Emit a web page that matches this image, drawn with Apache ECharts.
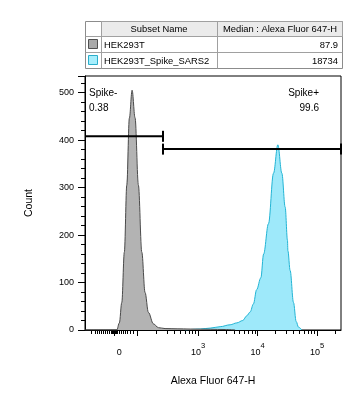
<!DOCTYPE html>
<html><head><meta charset="utf-8">
<script src="https://cdn.jsdelivr.net/npm/echarts@6/dist/echarts.min.js"></script>
<style>html,body{margin:0;padding:0;background:#fff}#c{width:362px;height:402px}</style>
</head><body><div id="c"></div>
<script>
// ---- data (x in logicle display units: decades, 10^3 = 3) ----
const subsetNames = ['HEK293T', 'HEK293T_Spike_SARS2'];
const subsetMedians = ['87.9', '18734'];
const tableHeaders = ['Subset Name', 'Median : Alexa Fluor 647-H'];

const hekChannel = [1.10, 1.60, 1.634, 1.677, 1.718, 1.761, 1.802, 1.845, 1.891, 1.941, 1.997, 2.054, 2.109, 2.165, 2.249, 2.333, 2.445, 2.647, 2.866, 3.202, 3.454, 3.622];
const hekCount   = [0,    0,    0,     15,    58,    164,   305,   446,   505,   447,   305,   164,   79,    37,    13,    5,     3,     2.5,   2,     1.5,   1,     0];

const spikeChannel = [2.78, 3.034, 3.202, 3.37, 3.538, 3.65, 3.75, 3.818, 3.874, 3.929, 3.983, 4.054, 4.10, 4.182, 4.266, 4.339, 4.407, 4.462, 4.501, 4.508, 4.546, 4.602, 4.647, 4.686, 4.743];
const spikeCount   = [0,    2,     4,     7,    11,    15,   20,   30,    38,    55,    85,    110,   160,  224,   330,   390,   330,   259,   189,   167,   125,   58,    18,    6,     0];

const xLabelValues = [1.677, 3, 4, 5];
const xLabelExps   = ['', '3', '4', '5'];
const xMajorTicks  = [1.588, 1.97, 3, 4, 5];
const xLowMinorTicks = [1.213, 1.269, 1.308, 1.341, 1.375, 1.408, 1.442, 1.476, 1.509, 1.533, 1.555, 1.571, 1.605, 1.622, 1.644, 1.677, 1.711, 1.745, 1.778, 1.812, 1.857, 1.913];
const logDecades = [2, 3, 4, 5];

const gateNames    = ['Spike-', 'Spike+'];
const gatePercents = ['0.38', '99.6'];
const gateStart    = [1.10, 2.41];
const gateEnd      = [2.41, 5.40];
const gateLevel    = [408, 381];

// ---- build ----
const xMin = 1.10, xMax = 5.40;
const logMinor = [];
logDecades.forEach(d => { for (let k = 2; k <= 9; k++) { const v = d + Math.log10(k); if (v < xMax) logMinor.push(+v.toFixed(4)); } });
const xMinorTicks = xLowMinorTicks.concat(logMinor);

const hekData = hekChannel.map((x, i) => [x, hekCount[i]]);
const spikeData = spikeChannel.map((x, i) => [x, spikeCount[i]]);
const gateData = gateStart.map((s, i) => [s, gateEnd[i], gateLevel[i], i]);

const FONT = '"Liberation Sans", Arial, sans-serif';
const TF = '9.4px ' + FONT;
const chart = echarts.init(document.getElementById('c'), null, {renderer: 'canvas'});

const tL = 85.5, tR = 342.5, tT = 21.5, r1 = 36.5, r2 = 52.5, tB = 68.5, c1 = 101.5, c2 = 217.5;
const graphic = [
  {type: 'rect', shape: {x: tL, y: tT, width: tR - tL, height: tB - tT}, style: {fill: '#fff', stroke: '#8c8c8c', lineWidth: 1}},
  {type: 'rect', shape: {x: c1, y: tT, width: tR - c1, height: r1 - tT}, style: {fill: '#ebebeb', stroke: '#a0a0a0', lineWidth: 1}},
  {type: 'line', shape: {x1: tL, y1: r1, x2: tR, y2: r1}, style: {stroke: '#a0a0a0'}},
  {type: 'line', shape: {x1: tL, y1: r2, x2: tR, y2: r2}, style: {stroke: '#a0a0a0'}},
  {type: 'line', shape: {x1: c1, y1: tT, x2: c1, y2: tB}, style: {stroke: '#a0a0a0'}},
  {type: 'line', shape: {x1: c2, y1: tT, x2: c2, y2: tB}, style: {stroke: '#a0a0a0'}},
  {type: 'rect', shape: {x: 88.5, y: 39.5, width: 9, height: 9}, style: {fill: '#a9a9a9', stroke: '#505050'}},
  {type: 'rect', shape: {x: 88.5, y: 55.5, width: 9, height: 9}, style: {fill: '#a6eefc', stroke: '#2aaecb'}},
  {type: 'text', style: {text: tableHeaders[0], x: 159, y: 29, font: TF, fill: '#000', align: 'center', verticalAlign: 'middle'}},
  {type: 'text', style: {text: tableHeaders[1], x: 280, y: 29, font: TF, fill: '#000', align: 'center', verticalAlign: 'middle'}},
  {type: 'text', style: {text: subsetNames[0], x: 104, y: 45, font: TF, fill: '#000', align: 'left', verticalAlign: 'middle'}},
  {type: 'text', style: {text: subsetNames[1], x: 104, y: 61, font: TF, fill: '#000', align: 'left', verticalAlign: 'middle'}},
  {type: 'text', style: {text: subsetMedians[0], x: 338, y: 45, font: TF, fill: '#000', align: 'right', verticalAlign: 'middle'}},
  {type: 'text', style: {text: subsetMedians[1], x: 338, y: 61, font: TF, fill: '#000', align: 'right', verticalAlign: 'middle'}},
  {type: 'text', style: {text: gateNames[0], x: 89, y: 93, font: '10px ' + FONT, fill: '#000', align: 'left', verticalAlign: 'middle'}},
  {type: 'text', style: {text: gatePercents[0], x: 89, y: 108, font: '10px ' + FONT, fill: '#000', align: 'left', verticalAlign: 'middle'}},
  {type: 'text', style: {text: gateNames[1], x: 319, y: 93, font: '10px ' + FONT, fill: '#000', align: 'right', verticalAlign: 'middle'}},
  {type: 'text', style: {text: gatePercents[1], x: 319, y: 108, font: '10px ' + FONT, fill: '#000', align: 'right', verticalAlign: 'middle'}}
];

chart.setOption({
  animation: false,
  backgroundColor: '#fff',
  textStyle: {fontFamily: FONT},
  grid: {left: 85, right: 21, top: 76, bottom: 72, show: true, borderColor: '#000', borderWidth: 1, backgroundColor: 'transparent'},
  graphic: graphic,
  xAxis: [{
    type: 'value', min: xMin, max: xMax,
    name: 'Alexa Fluor 647-H', nameLocation: 'middle', nameGap: 46,
    nameTextStyle: {fontSize: 10.5, color: '#000', fontFamily: FONT},
    axisLine: {show: true, lineStyle: {color: '#000', width: 1}},
    axisTick: {show: true, length: 6, lineStyle: {color: '#000', width: 1}, customValues: xMajorTicks},
    splitLine: {show: false},
    axisLabel: {
      customValues: xLabelValues, margin: 12, color: '#000',
      formatter: function (v) {
        const i = xLabelValues.findIndex(t => Math.abs(t - v) < 1e-6);
        if (i < 0) return '';
        return xLabelExps[i] === '' ? '{b|0}' : '{b|10}{s|' + xLabelExps[i] + '}';
      },
      rich: {
        b: {fontSize: 9, color: '#000', fontFamily: FONT, verticalAlign: 'bottom', lineHeight: 15},
        s: {fontSize: 7.5, color: '#000', fontFamily: FONT, verticalAlign: 'top', lineHeight: 15}
      }
    }
  }, {
    type: 'value', min: xMin, max: xMax, position: 'bottom',
    axisLine: {show: false}, splitLine: {show: false},
    axisTick: {show: true, length: 4, lineStyle: {color: '#000', width: 1}, customValues: xMinorTicks},
    axisLabel: {show: false, customValues: xMinorTicks}
  }],
  yAxis: {
    type: 'value', min: 0, max: 535, interval: 100,
    name: 'Count', nameLocation: 'middle', nameGap: 50,
    nameTextStyle: {fontSize: 10.5, color: '#000', fontFamily: FONT},
    axisLine: {show: true, lineStyle: {color: '#000'}},
    axisTick: {show: true, length: 7, lineStyle: {color: '#000'}},
    minorTick: {show: true, splitNumber: 5, length: 4, lineStyle: {color: '#000'}},
    splitLine: {show: false},
    axisLabel: {fontSize: 9, color: '#000', margin: 11, fontFamily: FONT, showMaxLabel: false}
  },
  series: [
    {
      name: subsetNames[1], type: 'line', data: spikeData, symbol: 'none',
      smooth: 0.35, smoothMonotone: 'x',
      lineStyle: {color: '#22b4d4', width: 1},
      areaStyle: {color: '#9ee9fa', opacity: 1}, z: 2
    },
    {
      name: subsetNames[0], type: 'line', data: hekData, symbol: 'none',
      smooth: 0.35, smoothMonotone: 'x',
      lineStyle: {color: '#4a4a4a', width: 1},
      areaStyle: {color: '#b3b3b3', opacity: 1}, z: 3
    },
    {
      type: 'custom', data: gateData, z: 5, clip: false,
      renderItem: function (params, api) {
        const s = api.coord([api.value(0), api.value(2)]);
        const e = api.coord([api.value(1), api.value(2)]);
        const idx = api.value(3);
        const h = 5.5;
        const children = [{type: 'line', shape: {x1: s[0], y1: s[1], x2: e[0], y2: e[1]}, style: {stroke: '#000', lineWidth: 2}}];
        if (idx === 1) children.push({type: 'line', shape: {x1: s[0], y1: s[1] - h, x2: s[0], y2: s[1] + h}, style: {stroke: '#000', lineWidth: 2}});
        children.push({type: 'line', shape: {x1: e[0], y1: e[1] - h, x2: e[0], y2: e[1] + h}, style: {stroke: '#000', lineWidth: 2}});
        return {type: 'group', children: children};
      }
    }
  ]
});
</script></body></html>
